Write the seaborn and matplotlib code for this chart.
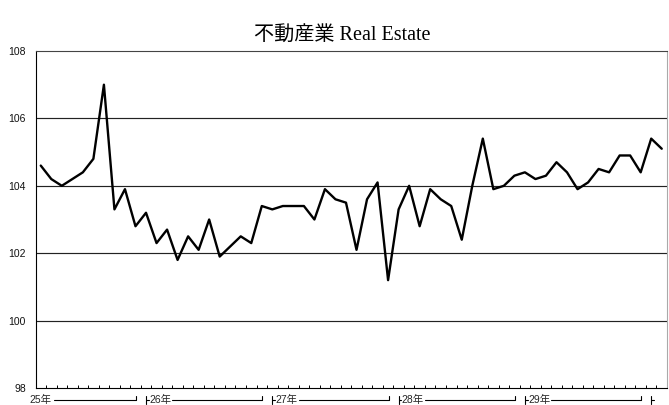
import numpy as np
import pandas as pd
import matplotlib
matplotlib.use("Agg")
import matplotlib.pyplot as plt
import seaborn as sns

# ---- data ----
title_jp = "不動産業"
title_en = "Real Estate"
values = [
    104.6, 104.2, 104.0, 104.2, 104.4, 104.8, 107.0, 103.3, 103.9, 102.8,
    103.2, 102.3, 102.7, 101.8, 102.5, 102.1, 103.0, 101.9, 102.2, 102.5, 102.3, 103.4,
    103.3, 103.4, 103.4, 103.4, 103.0, 103.9, 103.6, 103.5, 102.1, 103.6, 104.1, 101.2,
    103.3, 104.0, 102.8, 103.9, 103.6, 103.4, 102.4, 104.0, 105.4, 103.9, 104.0, 104.3,
    104.4, 104.2, 104.3, 104.7, 104.4, 103.9, 104.1, 104.5, 104.4, 104.9, 104.9, 104.4,
    105.4, 105.1,
]
year_labels = ["25年", "26年", "27年", "28年", "29年", "30年"]
months_per_year = [10, 12, 12, 12, 12, 2]
yticks = [98, 100, 102, 104, 106, 108]

df = pd.DataFrame({"idx": np.arange(len(values)), "value": values})

sns.set_theme(style="white")
plt.rcParams["font.family"] = ["Liberation Sans", "Noto Sans CJK JP", "DejaVu Sans"]

fig = plt.figure(figsize=(6.69, 4.05), dpi=100)
ax = fig.add_axes([35.5 / 669, 1 - 388 / 405, (667 - 35.5) / 669, (388 - 51) / 405])

# gridlines
for yv in yticks[1:-1]:
    ax.axhline(yv, color="#222222", lw=0.85, zorder=1)

sns.lineplot(data=df, x="idx", y="value", color="black", lw=1.7, ax=ax, zorder=3)

n = len(values)
ax.set_xlim(-0.5, n - 0.5)
ax.set_ylim(yticks[0], yticks[-1])
ax.set_yticks(yticks)
ax.set_yticklabels([str(t) for t in yticks], fontsize=7.5, color="#111111")
ax.tick_params(axis="y", length=0, pad=7)
ax.set_xticks(np.arange(n + 1) - 0.5)
ax.set_xticklabels([])
ax.tick_params(axis="x", direction="in", length=2.3, width=0.7, color="black", bottom=True)
ax.set_xlabel("")
ax.set_ylabel("")

for side, col in [("left", "black"), ("bottom", "black"), ("top", "#444444"), ("right", "#aaaaaa")]:
    ax.spines[side].set_visible(True)
    ax.spines[side].set_color(col)
    ax.spines[side].set_linewidth(0.8)

# year group labels under the axis
trans = ax.get_xaxis_transform()
px = 1.0 / 337.0  # axes-fraction per pixel vertically
y_line = -11.5 * px
y_top = -7.5 * px
y_bot = -16 * px
y_text = -15 * px
lab_font = dict(fontsize=7.5, family=["Liberation Sans", "Noto Sans CJK JP"])
start = 0
for i, (lab, m) in enumerate(zip(year_labels, months_per_year)):
    b0 = start - 0.5
    b1 = start + m - 0.5
    if i == 0:
        ax.text(b0 - 0.62, y_text, lab, transform=trans, ha="left", va="baseline",
                clip_on=False, **lab_font)
        line_start = b0 + 1.75
    else:
        xs = b0 + 0.5
        ax.plot([xs, xs], [y_top, y_bot], transform=trans, color="black", lw=0.8, clip_on=False)
        ax.plot([xs, xs + 0.25], [y_line, y_line], transform=trans, color="black", lw=0.8, clip_on=False)
        if m >= 3:
            ax.text(xs + 0.3, y_text, lab, transform=trans, ha="left", va="baseline",
                    clip_on=False, **lab_font)
        line_start = b0 + 3.0
    if m >= 3:
        xe = b1 - 0.45
        ax.plot([line_start, xe], [y_line, y_line], transform=trans, color="black", lw=0.8, clip_on=False)
        ax.plot([xe, xe], [y_top, y_line], transform=trans, color="black", lw=0.8, clip_on=False)
    start += m

fig.text(0.512, 1 - 40.5 / 405, f"{title_jp} {title_en}", ha="center", va="baseline",
         fontsize=14.5, family=["Liberation Serif", "Noto Sans CJK JP"], color="black")

fig.savefig("out.png", dpi=100, facecolor="white")
